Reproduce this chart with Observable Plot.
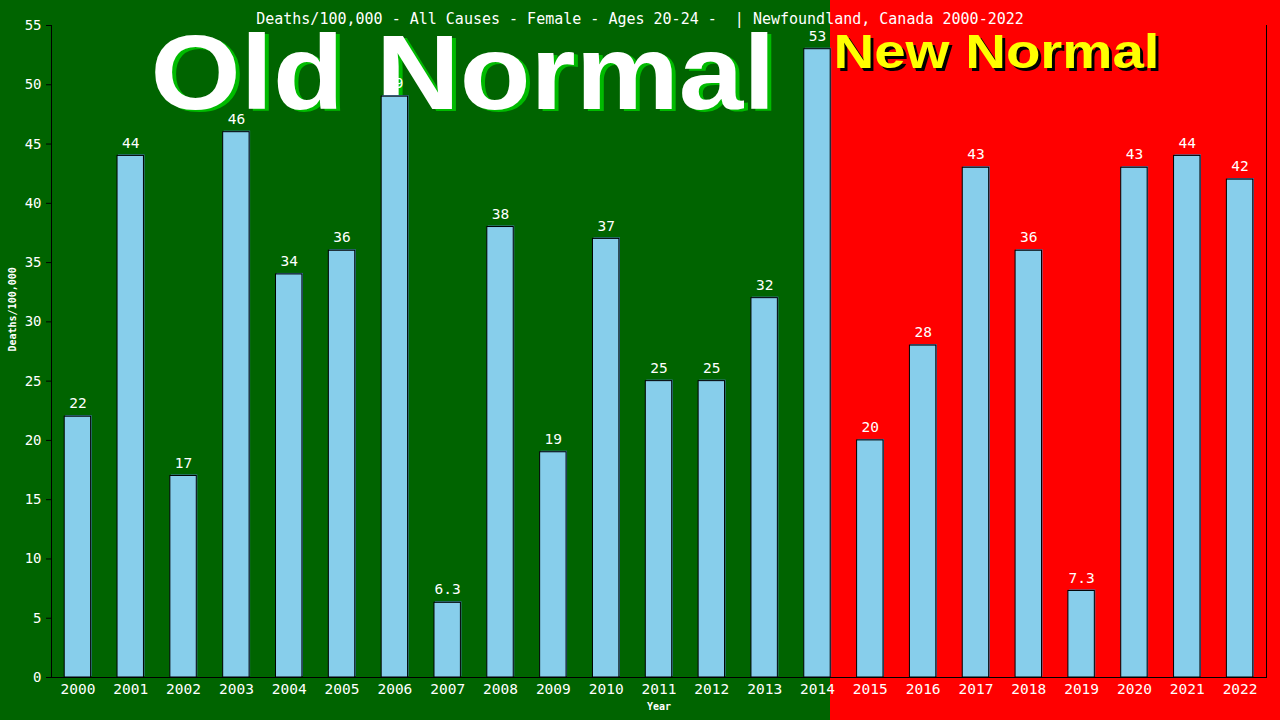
<!DOCTYPE html>
<html>
<head>
<meta charset="utf-8">
<script src="https://cdn.jsdelivr.net/npm/d3@7"></script>
<script src="https://cdn.jsdelivr.net/npm/@observablehq/plot@0.6"></script>
<style>
  html, body { margin: 0; padding: 0; background: #ff0000; }
  #chart svg { display: block; }
</style>
</head>
<body>
<div id="chart"></div>
<script>
const years = ["2000","2001","2002","2003","2004","2005","2006","2007","2008","2009","2010","2011","2012","2013","2014","2015","2016","2017","2018","2019","2020","2021","2022"];
const values = [22, 44, 17, 46, 34, 36, 49, 6.3, 38, 19, 37, 25, 25, 32, 53, 20, 28, 43, 36, 7.3, 43, 44, 42];
const yTicks = [0, 5, 10, 15, 20, 25, 30, 35, 40, 45, 50, 55];
const lastOldYear = "2014";
const titleText = "Deaths/100,000 - All Causes - Female - Ages 20-24 -  | Newfoundland, Canada 2000-2022";
const yLabel = "Deaths/100,000";
const xLabel = "Year";
const oldLabel = "Old Normal";
const newLabel = "New Normal";

const data = years.map((y, i) => ({year: y, value: values[i]}));
const fmt = v => Number.isInteger(v) ? String(v) : v.toFixed(1);
const mono = "'DejaVu Sans Mono', 'Liberation Mono', monospace";
const sans = "'Liberation Sans', Arial, sans-serif";

const chart = Plot.plot({
  width: 1280,
  height: 720,
  marginLeft: 51,
  marginRight: 14,
  marginTop: 25,
  marginBottom: 43,
  style: {background: "transparent", color: "white", fontFamily: mono, overflow: "visible"},
  x: {type: "band", domain: years, paddingInner: 0.5, paddingOuter: 0.25, round: false, label: null},
  y: {domain: [0, 55], label: null},
  marks: [
    // big annotations (drawn beneath bars)
    Plot.text([oldLabel], {frameAnchor: "top-left", textAnchor: "start", lineAnchor: "middle", dx: 103, dy: 52, fill: "#00bb00", fontSize: 106, fontWeight: "bold", fontFamily: sans}),
    Plot.text([oldLabel], {frameAnchor: "top-left", textAnchor: "start", lineAnchor: "middle", dx: 99, dy: 50, fill: "white", fontSize: 106, fontWeight: "bold", fontFamily: sans}),
    Plot.text([newLabel], {frameAnchor: "top-left", textAnchor: "start", lineAnchor: "middle", dx: 785, dy: 30, fill: "black", fontSize: 49, fontWeight: "bold", fontFamily: sans}),
    Plot.text([newLabel], {frameAnchor: "top-left", textAnchor: "start", lineAnchor: "middle", dx: 782, dy: 27, fill: "#ffff00", fontSize: 49, fontWeight: "bold", fontFamily: sans}),
    // bars
    Plot.barY(data, {x: "year", y: "value", fill: "#4682b4", dx: 1, dy: -1}),
    Plot.barY(data, {x: "year", y: "value", fill: "#87ceeb", stroke: "black", strokeWidth: 1}),
    Plot.text(data, {x: "year", y: "value", text: d => fmt(d.value), dy: -13, fill: "white", fontSize: 14.5}),
    // axes
    Plot.axisY({ticks: yTicks, tickSize: 5, tickPadding: 5, stroke: "black", fill: "white", fontSize: 14, label: null}),
    Plot.axisX({tickSize: 0, tickPadding: 6, fill: "white", fontSize: 14.5, label: null}),
    Plot.frame({anchor: "left", stroke: "black"}),
    Plot.frame({anchor: "right", stroke: "black"}),
    Plot.ruleY([0], {stroke: "black"}),
    // titles
    Plot.text([titleText], {frameAnchor: "top", dx: -19, dy: -12, fill: "white", fontSize: 15}),
    Plot.text([yLabel], {frameAnchor: "left", dx: -39, rotate: -90, fill: "white", fontSize: 10, fontWeight: "bold"}),
    Plot.text([xLabel], {frameAnchor: "bottom", dy: 32, fill: "white", fontSize: 10, fontWeight: "bold"})
  ]
});

// stretch the big annotation texts to the reference widths
d3.select(chart).selectAll("text").each(function() {
  const t = this.textContent;
  if (t === oldLabel) { this.setAttribute("textLength", 625); this.setAttribute("lengthAdjust", "spacingAndGlyphs"); }
  if (t === newLabel) { this.setAttribute("textLength", 326); this.setAttribute("lengthAdjust", "spacingAndGlyphs"); }
});

// background split: green up to the right edge of the last "old normal" bar, red after
const xs = chart.scale("x");
const boundary = xs.apply(lastOldYear) + xs.bandwidth;
chart.style.background = `linear-gradient(to right, #006400 ${boundary}px, #ff0000 ${boundary}px)`;

document.getElementById("chart").appendChild(chart);
</script>
</body>
</html>
